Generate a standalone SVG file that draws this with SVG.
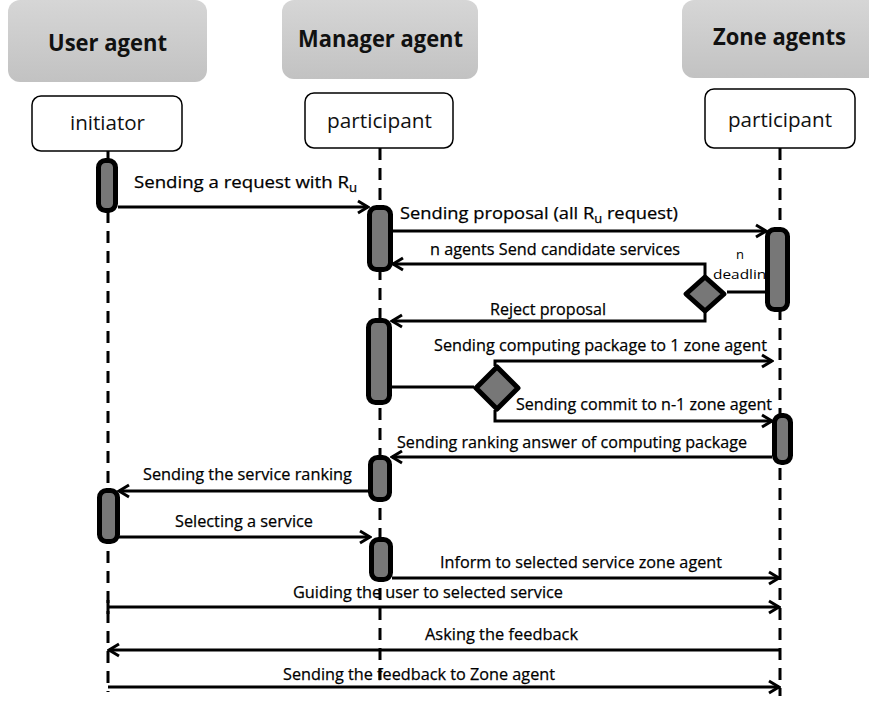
<svg xmlns="http://www.w3.org/2000/svg" width="869" height="701" viewBox="0 0 869 701">
<defs>
<linearGradient id="hg" x1="0" y1="0" x2="0" y2="1">
<stop offset="0" stop-color="#d6d6d6"/>
<stop offset="1" stop-color="#c2c2c2"/>
</linearGradient>
<marker id="ah" markerUnits="userSpaceOnUse" markerWidth="16" markerHeight="16" viewBox="0 0 16 16" refX="14" refY="8" orient="auto">
<path d="M4,2 L14,8 L4,14" fill="none" stroke="#000" stroke-width="3"/>
</marker>
</defs>
<style>
.hdr{fill:url(#hg);stroke:none}
.hdrt{font-family:"Open Sans","Liberation Sans",sans-serif;font-weight:bold;font-size:23px;fill:#111}
.role{fill:#fff;stroke:#000;stroke-width:1.5}
.rolet{font-family:"Open Sans","Liberation Sans",sans-serif;font-size:20px;fill:#111}
.life{stroke:#000;stroke-width:3;stroke-dasharray:12 8;fill:none}
.act{fill:#777;stroke:#000;stroke-width:5}
.msg{stroke:#000;stroke-width:3;fill:none}
.arr{marker-end:url(#ah)}
.lbl{font-family:"Open Sans","Liberation Sans",sans-serif;font-size:17px;fill:#000;stroke:#000;stroke-width:0.25}
.sm{font-family:"Open Sans","Liberation Sans",sans-serif;font-size:13px;fill:#000}
.dia{fill:#777;stroke:#000;stroke-width:5;stroke-linejoin:round}
</style>

<g id="user-agent">
<rect class="hdr" x="8" y="0" width="199" height="82" rx="12"/>
<text class="hdrt" x="48" y="51" textLength="119" lengthAdjust="spacingAndGlyphs">User agent</text>
</g>
<g id="manager-agent">
<rect class="hdr" x="282" y="0" width="196" height="79" rx="12"/>
<text class="hdrt" x="298" y="47" textLength="165" lengthAdjust="spacingAndGlyphs">Manager agent</text>
</g>
<g id="zone-agents">
<rect class="hdr" x="682" y="0" width="200" height="78" rx="12"/>
<text class="hdrt" x="713" y="45" textLength="133" lengthAdjust="spacingAndGlyphs">Zone agents</text>
</g>

<g id="lifelines">
<line class="life" x1="108" y1="151" x2="108" y2="692"/>
<line class="life" x1="380" y1="148" x2="380" y2="682"/>
<line class="life" x1="780" y1="148" x2="780" y2="696"/>
</g>

<g id="initiator">
<rect class="role" x="32" y="96" width="150" height="55" rx="9"/>
<text class="rolet" x="70" y="130" textLength="75" lengthAdjust="spacingAndGlyphs">initiator</text>
</g>
<g id="manager-participant">
<rect class="role" x="305" y="93" width="148" height="55" rx="9"/>
<text class="rolet" x="327" y="128" textLength="105" lengthAdjust="spacingAndGlyphs">participant</text>
</g>
<g id="zone-participant">
<rect class="role" x="705" y="89" width="150" height="59" rx="9"/>
<text class="rolet" x="728" y="127" textLength="104" lengthAdjust="spacingAndGlyphs">participant</text>
</g>

<g id="labels">
<text class="lbl" x="134" y="188" textLength="223" lengthAdjust="spacingAndGlyphs">Sending a request with R<tspan font-size="12" dy="4">u</tspan></text>
<text class="lbl" x="400" y="219" textLength="278" lengthAdjust="spacingAndGlyphs">Sending proposal (all R<tspan font-size="12" dy="4">u</tspan><tspan dy="-4"> request)</tspan></text>
<text class="lbl" x="430" y="255" font-size="16" textLength="250" lengthAdjust="spacingAndGlyphs">n agents Send candidate services</text>
<text class="sm" x="736" y="259">n</text>
<text class="sm" x="713" y="279" textLength="62" lengthAdjust="spacingAndGlyphs">deadline</text>
<text class="lbl" x="490" y="315" font-size="16" textLength="116" lengthAdjust="spacingAndGlyphs">Reject proposal</text>
<text class="lbl" x="434" y="351" textLength="333" lengthAdjust="spacingAndGlyphs">Sending computing package to 1 zone agent</text>
<text class="lbl" x="516" y="410" textLength="256" lengthAdjust="spacingAndGlyphs">Sending commit to n-1 zone agent</text>
<text class="lbl" x="397" y="448" textLength="350" lengthAdjust="spacingAndGlyphs">Sending ranking answer of computing package</text>
<text class="lbl" x="143" y="480" font-size="16" textLength="209" lengthAdjust="spacingAndGlyphs">Sending the service ranking</text>
<text class="lbl" x="175" y="527" font-size="16" textLength="138" lengthAdjust="spacingAndGlyphs">Selecting a service</text>
<text class="lbl" x="440" y="568" font-size="16" textLength="282" lengthAdjust="spacingAndGlyphs">Inform to selected service zone agent</text>
<text class="lbl" x="293" y="598" font-size="16" textLength="270" lengthAdjust="spacingAndGlyphs">Guiding the user to selected service</text>
<text class="lbl" x="425" y="640" font-size="16" textLength="153" lengthAdjust="spacingAndGlyphs">Asking the feedback</text>
<text class="lbl" x="283" y="680" font-size="16" textLength="272" lengthAdjust="spacingAndGlyphs">Sending the feedback to Zone agent</text>
</g>

<g id="connectors">
<line class="msg arr" x1="118" y1="207" x2="368" y2="207"/>
<line class="msg arr" x1="393" y1="231" x2="766" y2="231"/>
<polyline class="msg arr" points="705,276 705,264 393,264"/>
<line class="msg" x1="727" y1="292" x2="766" y2="292"/>
<polyline class="msg arr" points="705,312 705,321 392,321"/>
<line class="msg" x1="392" y1="387" x2="474" y2="387"/>
<polyline class="msg arr" points="495,366 495,361 772,361"/>
<polyline class="msg arr" points="495,410 495,421 772,421"/>
<line class="msg arr" x1="772" y1="457" x2="392" y2="457"/>
<line class="msg arr" x1="368" y1="491" x2="119" y2="491"/>
<line class="msg arr" x1="119" y1="537" x2="370" y2="537"/>
<line class="msg arr" x1="392" y1="578" x2="779" y2="578"/>
<line class="msg arr" x1="108" y1="607" x2="779" y2="607"/>
<line class="msg arr" x1="780" y1="650" x2="109" y2="650"/>
<line class="msg arr" x1="108" y1="687" x2="779" y2="687"/>
<line class="msg" x1="108" y1="600" x2="108" y2="614"/>
</g>

<g id="activations">
<rect class="act" x="98.5" y="160.5" width="17" height="50" rx="7"/>
<rect class="act" x="369.5" y="207.5" width="21" height="62" rx="7"/>
<rect class="act" x="767.5" y="229.5" width="20" height="80" rx="7"/>
<rect class="act" x="368.5" y="320.5" width="21" height="82" rx="7"/>
<rect class="act" x="774.5" y="415.5" width="16" height="47" rx="7"/>
<rect class="act" x="370.5" y="457.5" width="19" height="42" rx="7"/>
<rect class="act" x="99.5" y="490.5" width="18" height="51" rx="7"/>
<rect class="act" x="371.5" y="539.5" width="19" height="40" rx="7"/>
</g>

<g id="decisions">
<polygon class="dia" points="705,277 724,294 705,311 686,294"/>
<polygon class="dia" points="497,367 518,388 497,409 476,388"/>
</g>
</svg>
